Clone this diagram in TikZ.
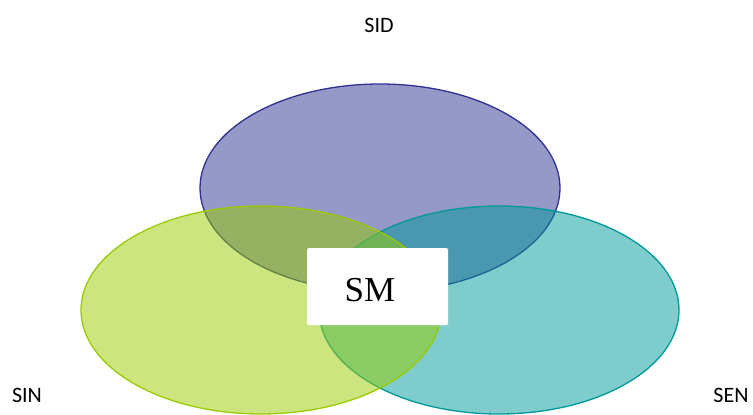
\documentclass[tikz,border=0pt]{standalone}
\usepackage{fontspec}
\setmainfont{Liberation Serif}
\newfontfamily\calfont{Carlito}
\usepackage{tikz}
\definecolor{sidcol}{RGB}{46,49,146}
\definecolor{sincol}{RGB}{153,204,0}
\definecolor{sencol}{RGB}{0,153,153}
\tikzset{
  setlabel/.style={font=\calfont\fontsize{22}{26}\selectfont, inner sep=0pt},
  venn/.style={line width=1.3pt, fill opacity=0.5}
}

\begin{document}
\begin{tikzpicture}[x=1pt, y=-1pt]
\useasboundingbox (0,0) rectangle (753,415);
\begin{scope}
\clip (0,0) rectangle (753,415);
\draw[venn, draw=sidcol, fill=sidcol] (380,188) ellipse [x radius=180pt, y radius=104pt];
\draw[venn, draw=sencol, fill=sencol] (499,310) ellipse [x radius=180pt, y radius=104pt];
\draw[venn, draw=sincol, fill=sincol] (261,310) ellipse [x radius=180pt, y radius=104pt];
\end{scope}
\node[fill=white, rounded corners=1.5pt, minimum width=141pt, minimum height=77pt] (sm) at (377.5,286.5) {};
\node[font=\fontsize{35}{40}\selectfont] (smtxt) at (370,290) {SM};
\node[setlabel] (sid) at (379,25) {SID};
\node[setlabel] (sin) at (27,395) {SIN};
\node[setlabel] (sen) at (731,395) {SEN};
\end{tikzpicture}
\end{document}
